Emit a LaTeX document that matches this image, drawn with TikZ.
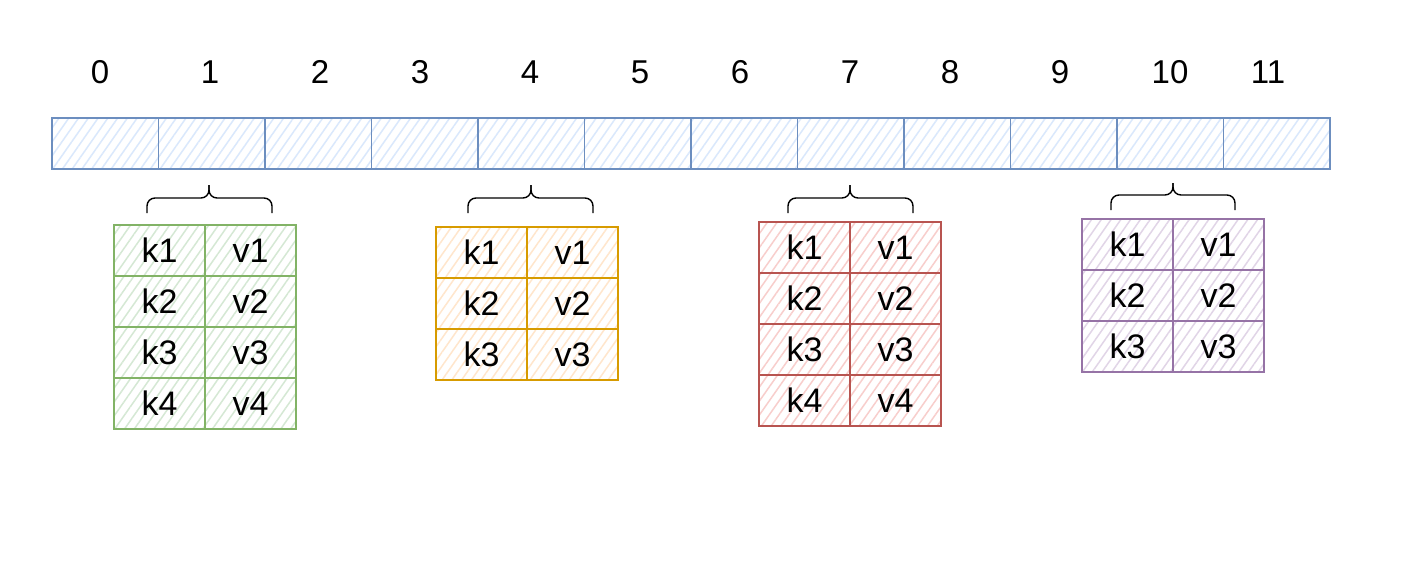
\documentclass[tikz,border=0pt]{standalone}
\usepackage{fontspec}
\setmainfont{Liberation Sans}
\usetikzlibrary{patterns.meta}
\definecolor{bstroke}{HTML}{6C8EBF}\definecolor{bfill}{HTML}{DAE8FC}
\definecolor{gstroke}{HTML}{82B366}\definecolor{gfill}{HTML}{D5E8D4}
\definecolor{ostroke}{HTML}{D79B00}\definecolor{ofill}{HTML}{FFE6CC}
\definecolor{rstroke}{HTML}{B85450}\definecolor{rfill}{HTML}{F8CECC}
\definecolor{pstroke}{HTML}{9673A6}\definecolor{pfill}{HTML}{E1D5E7}
\tikzset{
  hatch/.style={pattern={Lines[angle=55,distance=8pt,line width=1.5pt]},pattern color=#1},
  arrcell/.style={draw=bstroke,line width=1.9pt,hatch=bfill,inner sep=0pt,
    minimum width=106.5pt,minimum height=51pt},
  kvcell/.style 2 args={draw=#1,line width=1.7pt,hatch=#2,inner sep=0pt,
    minimum width=91pt,minimum height=51pt,font=\fontsize{34}{40}\selectfont},
  idx/.style={font=\fontsize{33}{40}\selectfont,inner sep=0pt},
  bracepath/.style={draw=black,line width=1.4pt,rounded corners=8pt}
}
\begin{document}
\begin{tikzpicture}[x=1pt,y=-1pt]
\useasboundingbox (0,0) rectangle (1409,565);
\fill[white] (0,0) rectangle (1409,565);
% index labels
\foreach \i/\x in {0/100,1/210,2/320,3/420,4/530,5/640,6/740,7/850,8/950,9/1060,10/1170,11/1268}
  \node[idx] (n\i) at (\x,72) {\i};
% array cells
\foreach \i in {0,...,11}
  \node[arrcell] (a\i) at ({52+106.5*(\i+0.5)},143.5) {};
% tables
\foreach \nm/\L/\T/\n/\st/\fl in {g/114/225/4/gstroke/gfill,o/436/227/3/ostroke/ofill,r/759/222/4/rstroke/rfill,p/1082/219/3/pstroke/pfill}{
  \foreach \r in {1,...,\n}{
    \node[kvcell={\st}{\fl}] (\nm k\r) at ({\L+45.5},{\T+(\r-0.5)*51}) {k\r};
    \node[kvcell={\st}{\fl}] (\nm v\r) at ({\L+136.5},{\T+(\r-0.5)*51}) {v\r};
  }
}
% braces
\foreach \bl/\br/\bt/\ty/\ey in {147/272/209/185/213,468/593/531/185/213,788/913/850/185/213,1111/1235/1173/183/210}{
  \draw[bracepath] (\bl,\ey) |- (\bt,{\ey-15}) -- (\bt,\ty);
  \draw[bracepath] (\br,\ey) |- (\bt,{\ey-15}) -- (\bt,\ty);
}
\end{tikzpicture}
\end{document}
